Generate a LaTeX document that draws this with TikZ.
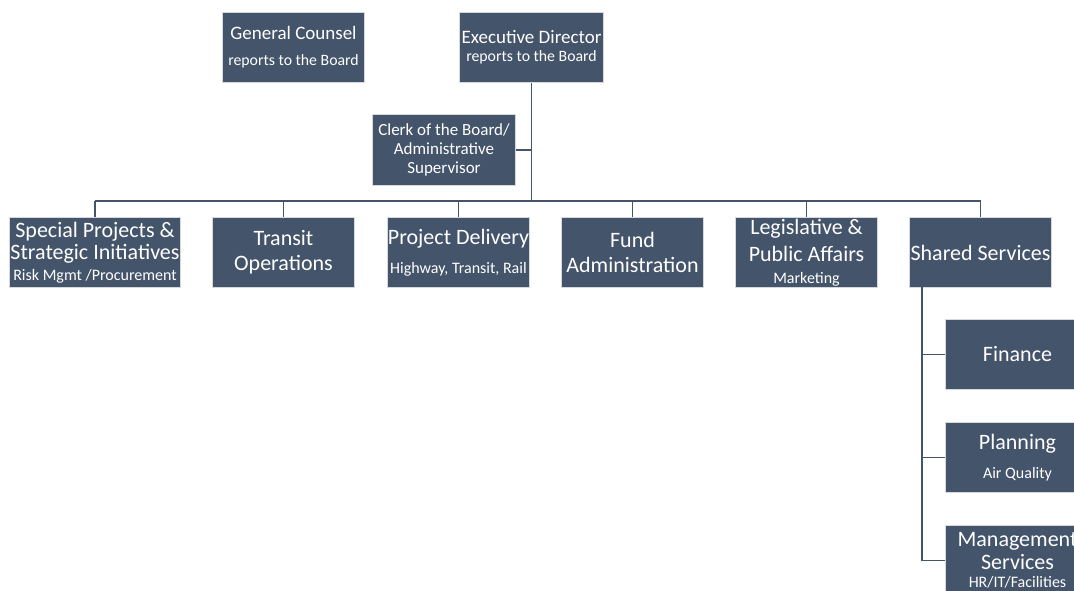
\documentclass[tikz,border=0pt]{standalone}
\usepackage{fontspec}
\setmainfont{Carlito}
\definecolor{boxfill}{HTML}{44546A}
\definecolor{boxedge}{HTML}{D5D9DE}
\definecolor{linkcol}{HTML}{44546A}
\newcommand\ttlA{\fontsize{22}{22}\selectfont}
\newcommand\ttlB{\fontsize{19}{19}\selectfont}
\newcommand\ttlC{\fontsize{17}{19}\selectfont}
\newcommand\subA{\fontsize{16}{18}\selectfont}
\newcommand\subB{\fontsize{15.8}{17}\selectfont}
\tikzset{
  orgbox/.style={draw=boxedge, line width=1pt, fill=boxfill, text=white,
    minimum width=142pt, minimum height=70pt, inner sep=0pt, align=center,
    anchor=north west, font=\ttlA},
  link/.style={draw=linkcol, line width=1.6pt}
}
\begin{document}
\begin{tikzpicture}[x=1pt, y=-1pt]
\useasboundingbox (0,0) rectangle (1074,590);
\fill[white] (0,0) rectangle (1074,590);
\clip (0,0) rectangle (1074,590);

% top level
\node[orgbox, font=\ttlB] (gc) at (222,12) {General Counsel\\[7pt]{\subB reports to the Board}};
\node[orgbox, minimum width=144pt, font=\ttlB] (ed) at (459,12) {Executive Director\\[-1pt]{\subB reports to the Board}};
\node[orgbox, minimum width=143pt, minimum height=71pt, font=\ttlC] (clerk) at (372,114) {Clerk of the Board/\\Administrative\\Supervisor};

% departments
\node[orgbox, minimum width=171pt] (spi) at (9,217) {Special Projects \&\\Strategic Initiatives\\[-1.5pt]{\subA Risk Mgmt /Procurement}};
\node[orgbox] (tops) at (212,217) {Transit\\[3pt]Operations};
\node[orgbox] (pd) at (387,217) {Project Delivery\\[6.5pt]{\subA Highway, Transit, Rail}};
\node[orgbox] (fund) at (561,217) {Fund\\[3pt]Administration};
\node[orgbox] (lpa) at (735,217) {Legislative \&\\[5pt]Public Affairs\\[0.5pt]{\subA Marketing}};
\node[orgbox] (ss) at (909,217) {Shared Services};

% shared services units
\node[orgbox, minimum width=144pt] (fin) at (945,319) {Finance};
\node[orgbox, minimum width=144pt] (plan) at (945,422) {Planning\\[7.5pt]{\subA Air Quality}};
\node[orgbox, minimum width=144pt] (mgmt) at (945,525) {Management\\[1pt]Services\\[-4.5pt]{\subA HR/IT/Facilities}};

% connectors
\coordinate (bus) at (0,201);
\coordinate (ssdrop) at (922,287);
\draw[link] (ed.south) -- (ed.south |- bus);
\draw[link] (clerk.east) -- (clerk.east -| ed.south);
\draw[link] (spi.north |- bus) -- (ss.north |- bus);
\foreach \n in {spi,tops,pd,fund,lpa,ss}
  \draw[link] (\n.north |- bus) -- (\n.north);
\draw[link] (ssdrop) -- (ssdrop |- mgmt.west);
\foreach \n in {fin,plan,mgmt}
  \draw[link] (ssdrop |- \n.west) -- (\n.west);
\end{tikzpicture}
\end{document}
